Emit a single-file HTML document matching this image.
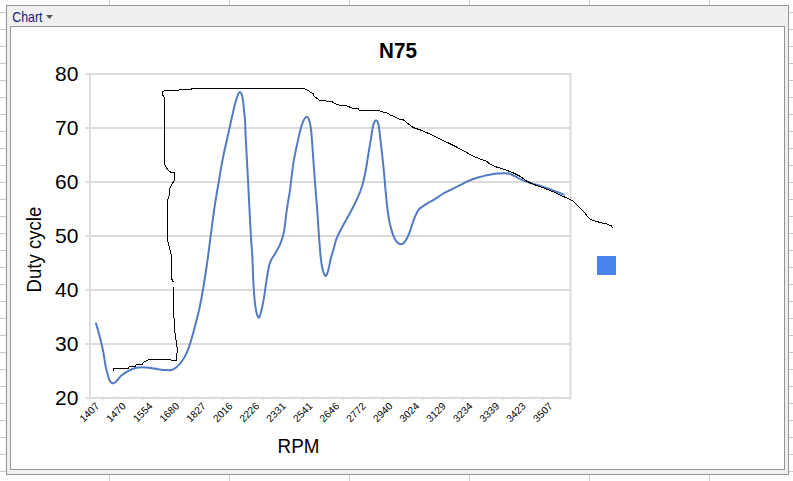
<!DOCTYPE html>
<html><head><meta charset="utf-8"><style>
html,body{margin:0;padding:0;background:#fff;width:793px;height:481px;overflow:hidden}
svg{display:block}
text{font-family:"Liberation Sans",sans-serif}
</style></head><body>
<svg width="793" height="481" viewBox="0 0 793 481"><g stroke="#c8c8c8" stroke-width="1" shape-rendering="crispEdges"><line x1="0" y1="12.5" x2="6" y2="12.5"/><line x1="789" y1="12.5" x2="793" y2="12.5"/><line x1="0" y1="29.5" x2="6" y2="29.5"/><line x1="789" y1="29.5" x2="793" y2="29.5"/><line x1="0" y1="46.5" x2="6" y2="46.5"/><line x1="789" y1="46.5" x2="793" y2="46.5"/><line x1="0" y1="63.5" x2="6" y2="63.5"/><line x1="789" y1="63.5" x2="793" y2="63.5"/><line x1="0" y1="80.5" x2="6" y2="80.5"/><line x1="789" y1="80.5" x2="793" y2="80.5"/><line x1="0" y1="97.5" x2="6" y2="97.5"/><line x1="789" y1="97.5" x2="793" y2="97.5"/><line x1="0" y1="114.5" x2="6" y2="114.5"/><line x1="789" y1="114.5" x2="793" y2="114.5"/><line x1="0" y1="131.5" x2="6" y2="131.5"/><line x1="789" y1="131.5" x2="793" y2="131.5"/><line x1="0" y1="148.5" x2="6" y2="148.5"/><line x1="789" y1="148.5" x2="793" y2="148.5"/><line x1="0" y1="165.5" x2="6" y2="165.5"/><line x1="789" y1="165.5" x2="793" y2="165.5"/><line x1="0" y1="182.5" x2="6" y2="182.5"/><line x1="789" y1="182.5" x2="793" y2="182.5"/><line x1="0" y1="199.5" x2="6" y2="199.5"/><line x1="789" y1="199.5" x2="793" y2="199.5"/><line x1="0" y1="216.5" x2="6" y2="216.5"/><line x1="789" y1="216.5" x2="793" y2="216.5"/><line x1="0" y1="233.5" x2="6" y2="233.5"/><line x1="789" y1="233.5" x2="793" y2="233.5"/><line x1="0" y1="250.5" x2="6" y2="250.5"/><line x1="789" y1="250.5" x2="793" y2="250.5"/><line x1="0" y1="267.5" x2="6" y2="267.5"/><line x1="789" y1="267.5" x2="793" y2="267.5"/><line x1="0" y1="284.5" x2="6" y2="284.5"/><line x1="789" y1="284.5" x2="793" y2="284.5"/><line x1="0" y1="301.5" x2="6" y2="301.5"/><line x1="789" y1="301.5" x2="793" y2="301.5"/><line x1="0" y1="318.5" x2="6" y2="318.5"/><line x1="789" y1="318.5" x2="793" y2="318.5"/><line x1="0" y1="335.5" x2="6" y2="335.5"/><line x1="789" y1="335.5" x2="793" y2="335.5"/><line x1="0" y1="352.5" x2="6" y2="352.5"/><line x1="789" y1="352.5" x2="793" y2="352.5"/><line x1="0" y1="369.5" x2="6" y2="369.5"/><line x1="789" y1="369.5" x2="793" y2="369.5"/><line x1="0" y1="386.5" x2="6" y2="386.5"/><line x1="789" y1="386.5" x2="793" y2="386.5"/><line x1="0" y1="403.5" x2="6" y2="403.5"/><line x1="789" y1="403.5" x2="793" y2="403.5"/><line x1="0" y1="420.5" x2="6" y2="420.5"/><line x1="789" y1="420.5" x2="793" y2="420.5"/><line x1="0" y1="437.5" x2="6" y2="437.5"/><line x1="789" y1="437.5" x2="793" y2="437.5"/><line x1="0" y1="454.5" x2="6" y2="454.5"/><line x1="789" y1="454.5" x2="793" y2="454.5"/><line x1="0" y1="471.5" x2="6" y2="471.5"/><line x1="789" y1="471.5" x2="793" y2="471.5"/><line x1="109.5" y1="0" x2="109.5" y2="5"/><line x1="109.5" y1="475" x2="109.5" y2="481"/><line x1="229.5" y1="0" x2="229.5" y2="5"/><line x1="229.5" y1="475" x2="229.5" y2="481"/><line x1="349.5" y1="0" x2="349.5" y2="5"/><line x1="349.5" y1="475" x2="349.5" y2="481"/><line x1="469.5" y1="0" x2="469.5" y2="5"/><line x1="469.5" y1="475" x2="469.5" y2="481"/><line x1="589.5" y1="0" x2="589.5" y2="5"/><line x1="589.5" y1="475" x2="589.5" y2="481"/><line x1="709.5" y1="0" x2="709.5" y2="5"/><line x1="709.5" y1="475" x2="709.5" y2="481"/></g>
<rect x="6.5" y="5.5" width="782" height="469" fill="#efefef" stroke="#959595" stroke-width="1" shape-rendering="crispEdges"/>
<rect x="10.5" y="26.5" width="774" height="443" fill="#ffffff" stroke="#959595" stroke-width="1" shape-rendering="crispEdges"/>
<text x="0" y="0" transform="translate(12.3 21.8) scale(0.95 1.1)" font-family="Liberation Sans" font-size="13" fill="#1a1a73">Chart</text>
<path d="M46 15 L53 15 L49.5 19 Z" fill="#555"/>
<g stroke="#dcdcdc" stroke-width="2"><line x1="85.5" y1="74.0" x2="571" y2="74.0"/><line x1="85.5" y1="128.0" x2="571" y2="128.0"/><line x1="85.5" y1="182.0" x2="571" y2="182.0"/><line x1="85.5" y1="236.0" x2="571" y2="236.0"/><line x1="85.5" y1="290.0" x2="571" y2="290.0"/><line x1="85.5" y1="344.0" x2="571" y2="344.0"/><line x1="85.5" y1="398.0" x2="571" y2="398.0"/><line x1="90" y1="73" x2="90" y2="399"/><line x1="570.5" y1="73" x2="570.5" y2="399"/></g>
<g stroke="#dddddd" stroke-width="1"><line x1="90.0" y1="398" x2="90.0" y2="400.5"/><line x1="103.3" y1="398" x2="103.3" y2="400.5"/><line x1="116.7" y1="398" x2="116.7" y2="400.5"/><line x1="130.0" y1="398" x2="130.0" y2="400.5"/><line x1="143.3" y1="398" x2="143.3" y2="400.5"/><line x1="156.7" y1="398" x2="156.7" y2="400.5"/><line x1="170.0" y1="398" x2="170.0" y2="400.5"/><line x1="183.3" y1="398" x2="183.3" y2="400.5"/><line x1="196.7" y1="398" x2="196.7" y2="400.5"/><line x1="210.0" y1="398" x2="210.0" y2="400.5"/><line x1="223.3" y1="398" x2="223.3" y2="400.5"/><line x1="236.7" y1="398" x2="236.7" y2="400.5"/><line x1="250.0" y1="398" x2="250.0" y2="400.5"/><line x1="263.3" y1="398" x2="263.3" y2="400.5"/><line x1="276.7" y1="398" x2="276.7" y2="400.5"/><line x1="290.0" y1="398" x2="290.0" y2="400.5"/><line x1="303.3" y1="398" x2="303.3" y2="400.5"/><line x1="316.7" y1="398" x2="316.7" y2="400.5"/><line x1="330.0" y1="398" x2="330.0" y2="400.5"/><line x1="343.3" y1="398" x2="343.3" y2="400.5"/><line x1="356.7" y1="398" x2="356.7" y2="400.5"/><line x1="370.0" y1="398" x2="370.0" y2="400.5"/><line x1="383.3" y1="398" x2="383.3" y2="400.5"/><line x1="396.7" y1="398" x2="396.7" y2="400.5"/><line x1="410.0" y1="398" x2="410.0" y2="400.5"/><line x1="423.3" y1="398" x2="423.3" y2="400.5"/><line x1="436.7" y1="398" x2="436.7" y2="400.5"/><line x1="450.0" y1="398" x2="450.0" y2="400.5"/><line x1="463.3" y1="398" x2="463.3" y2="400.5"/><line x1="476.7" y1="398" x2="476.7" y2="400.5"/><line x1="490.0" y1="398" x2="490.0" y2="400.5"/><line x1="503.3" y1="398" x2="503.3" y2="400.5"/><line x1="516.7" y1="398" x2="516.7" y2="400.5"/><line x1="530.0" y1="398" x2="530.0" y2="400.5"/><line x1="543.3" y1="398" x2="543.3" y2="400.5"/><line x1="556.7" y1="398" x2="556.7" y2="400.5"/><line x1="570.0" y1="398" x2="570.0" y2="400.5"/></g>
<g font-family="Liberation Sans" font-size="21" fill="#000"><text x="78.4" y="81.4" text-anchor="end">80</text><text x="78.4" y="135.4" text-anchor="end">70</text><text x="78.4" y="189.4" text-anchor="end">60</text><text x="78.4" y="243.4" text-anchor="end">50</text><text x="78.4" y="297.4" text-anchor="end">40</text><text x="78.4" y="351.4" text-anchor="end">30</text><text x="78.4" y="405.4" text-anchor="end">20</text></g>
<g font-family="Liberation Sans" font-size="10.2" fill="#000"><text x="99.9" y="406.8" text-anchor="end" transform="rotate(-45 99.9 406.8)">1407</text><text x="126.5" y="406.8" text-anchor="end" transform="rotate(-45 126.5 406.8)">1470</text><text x="153.2" y="406.8" text-anchor="end" transform="rotate(-45 153.2 406.8)">1554</text><text x="179.9" y="406.8" text-anchor="end" transform="rotate(-45 179.9 406.8)">1680</text><text x="206.5" y="406.8" text-anchor="end" transform="rotate(-45 206.5 406.8)">1827</text><text x="233.2" y="406.8" text-anchor="end" transform="rotate(-45 233.2 406.8)">2016</text><text x="259.9" y="406.8" text-anchor="end" transform="rotate(-45 259.9 406.8)">2226</text><text x="286.5" y="406.8" text-anchor="end" transform="rotate(-45 286.5 406.8)">2331</text><text x="313.2" y="406.8" text-anchor="end" transform="rotate(-45 313.2 406.8)">2541</text><text x="339.9" y="406.8" text-anchor="end" transform="rotate(-45 339.9 406.8)">2646</text><text x="366.5" y="406.8" text-anchor="end" transform="rotate(-45 366.5 406.8)">2772</text><text x="393.2" y="406.8" text-anchor="end" transform="rotate(-45 393.2 406.8)">2940</text><text x="419.9" y="406.8" text-anchor="end" transform="rotate(-45 419.9 406.8)">3024</text><text x="446.5" y="406.8" text-anchor="end" transform="rotate(-45 446.5 406.8)">3129</text><text x="473.2" y="406.8" text-anchor="end" transform="rotate(-45 473.2 406.8)">3234</text><text x="499.9" y="406.8" text-anchor="end" transform="rotate(-45 499.9 406.8)">3339</text><text x="526.5" y="406.8" text-anchor="end" transform="rotate(-45 526.5 406.8)">3423</text><text x="553.2" y="406.8" text-anchor="end" transform="rotate(-45 553.2 406.8)">3507</text></g>
<text x="0" y="0" text-anchor="middle" transform="translate(398 57.7) scale(1 1.06)" font-family="Liberation Sans" font-size="20.6" font-weight="bold" fill="#000">N75</text>
<text x="0" y="0" text-anchor="middle" transform="translate(298.5 452.7) scale(1 1.06)" font-family="Liberation Sans" font-size="18.8" fill="#000">RPM</text>
<text x="0" y="0" text-anchor="middle" transform="translate(41.3 249.6) rotate(-90) scale(1 1.09)" font-family="Liberation Sans" font-size="18.6" fill="#000">Duty cycle</text>
<rect x="597" y="256" width="19" height="19" fill="#4783ea"/>
<path d="M96.0 323.5 C96.3 324.7 97.3 327.7 98.1 330.6 C98.9 333.6 100.0 337.6 100.9 341.2 C101.8 344.8 102.5 347.8 103.3 352.0 C104.1 356.2 104.9 362.8 105.6 366.2 C106.2 369.6 106.7 370.5 107.2 372.5 C107.7 374.5 108.2 376.6 108.7 378.1 C109.2 379.6 109.7 380.6 110.3 381.5 C110.9 382.4 111.7 383.0 112.5 383.2 C113.3 383.4 114.2 383.0 115.0 382.5 C115.8 382.0 116.7 380.9 117.5 380.0 C118.3 379.1 119.2 377.8 120.0 376.9 C120.8 376.0 121.2 375.6 122.5 374.7 C123.8 373.8 125.5 372.4 127.6 371.3 C129.7 370.2 132.7 368.7 135.2 368.0 C137.7 367.3 140.2 367.3 142.7 367.3 C145.2 367.3 147.8 367.7 150.3 368.0 C152.8 368.3 155.4 368.9 157.9 369.2 C160.4 369.5 163.2 369.9 165.5 370.0 C167.8 370.1 169.7 370.4 171.5 370.0 C173.3 369.6 174.4 368.9 176.1 367.5 C177.8 366.1 179.6 364.6 181.6 361.7 C183.6 358.8 185.7 355.6 187.8 350.3 C189.9 345.0 192.1 337.1 194.0 330.0 C195.9 322.9 197.9 315.2 199.5 308.0 C201.1 300.8 202.2 294.6 203.5 286.5 C204.8 278.4 206.4 268.1 207.6 259.5 C208.8 250.9 209.8 242.7 210.8 234.9 C211.8 227.2 212.8 219.4 213.7 213.0 C214.6 206.6 215.3 201.8 216.2 196.6 C217.0 191.4 217.9 186.9 218.8 181.6 C219.7 176.3 220.6 170.2 221.6 164.9 C222.6 159.6 223.5 155.0 224.6 150.0 C225.7 145.0 226.9 140.0 228.0 135.0 C229.1 130.0 230.5 123.8 231.3 120.0 C232.1 116.2 232.4 115.2 233.0 112.5 C233.6 109.8 234.2 106.9 235.0 104.1 C235.8 101.3 236.8 97.8 237.5 95.8 C238.2 93.8 238.8 92.4 239.5 92.1 C240.2 91.8 241.0 92.8 241.6 94.1 C242.2 95.4 242.5 97.3 242.9 100.0 C243.3 102.7 243.7 106.7 244.0 110.0 C244.3 113.3 244.7 115.5 245.0 120.0 C245.3 124.5 245.3 129.4 245.7 137.2 C246.1 145.0 246.8 158.2 247.3 167.0 C247.8 175.8 247.9 178.5 248.5 190.0 C249.1 201.5 250.2 224.7 250.9 236.0 C251.6 247.3 252.0 249.7 252.4 257.7 C252.8 265.7 253.0 276.2 253.5 284.2 C254.0 292.1 254.4 299.8 255.2 305.4 C256.0 310.9 257.4 316.3 258.3 317.5 C259.2 318.7 260.0 315.3 260.9 312.4 C261.8 309.5 262.7 305.0 263.6 300.0 C264.5 295.0 265.3 288.0 266.2 282.4 C267.1 276.8 268.1 270.2 268.9 266.5 C269.7 262.8 270.1 262.1 271.2 259.9 C272.3 257.7 273.9 255.6 275.3 253.2 C276.7 250.8 278.2 248.5 279.5 245.7 C280.8 242.9 282.0 239.5 282.8 236.6 C283.6 233.7 283.9 231.9 284.5 228.3 C285.1 224.7 285.6 219.2 286.1 215.0 C286.7 210.8 287.2 207.5 287.8 203.3 C288.4 199.1 289.1 196.8 290.0 190.0 C290.9 183.2 292.2 170.5 293.5 162.4 C294.8 154.3 296.3 147.8 297.7 141.6 C299.1 135.4 300.4 129.1 301.8 125.0 C303.2 120.9 304.8 117.9 306.0 117.0 C307.2 116.1 308.2 117.4 309.1 119.8 C310.0 122.2 310.6 125.8 311.2 131.2 C311.8 136.6 312.3 145.1 312.8 152.0 C313.3 158.9 313.7 164.8 314.3 172.8 C314.9 180.8 315.9 193.7 316.4 200.0 C316.9 206.3 316.8 203.8 317.3 210.8 C317.8 217.8 318.7 233.3 319.4 242.0 C320.1 250.7 320.5 257.2 321.4 262.8 C322.3 268.4 323.8 273.9 324.9 275.5 C325.9 277.1 326.7 274.9 327.7 272.1 C328.7 269.3 329.9 262.3 330.8 258.6 C331.7 254.9 332.3 253.4 333.3 250.0 C334.3 246.6 335.3 241.8 336.7 238.2 C338.1 234.6 340.0 231.4 341.6 228.2 C343.2 225.0 344.9 222.1 346.6 219.1 C348.3 216.1 349.9 213.2 351.6 210.0 C353.3 206.8 355.1 203.3 356.6 200.0 C358.1 196.7 359.7 193.1 360.8 190.0 C361.9 186.9 362.5 184.9 363.3 181.6 C364.1 178.3 365.0 174.1 365.8 170.0 C366.6 165.9 367.0 162.3 367.9 157.0 C368.8 151.7 370.1 143.5 371.0 138.3 C371.9 133.1 372.3 128.8 373.1 125.8 C373.9 122.8 374.9 120.8 375.8 120.5 C376.7 120.2 377.6 120.7 378.3 123.7 C379.1 126.7 379.6 132.8 380.3 138.3 C381.0 143.9 381.7 150.4 382.4 157.0 C383.1 163.6 384.0 172.3 384.5 177.8 C385.0 183.3 385.0 185.1 385.5 190.0 C386.0 194.9 386.6 202.2 387.3 207.5 C388.0 212.8 388.5 217.4 389.5 222.0 C390.5 226.6 391.9 231.8 393.1 235.1 C394.3 238.4 395.4 240.5 396.9 242.0 C398.3 243.5 400.4 244.4 401.8 244.2 C403.2 244.0 404.3 242.7 405.5 240.9 C406.7 239.2 407.8 237.1 409.1 233.7 C410.4 230.3 412.1 224.4 413.5 220.6 C414.9 216.8 416.7 213.1 417.8 211.1 C418.9 209.1 418.4 209.7 420.0 208.4 C421.6 207.1 424.9 204.8 427.3 203.3 C429.7 201.8 432.1 200.8 434.5 199.3 C436.9 197.8 439.4 196.0 441.8 194.5 C444.2 193.0 446.7 191.8 449.1 190.5 C451.5 189.2 454.4 187.9 456.4 186.9 C458.4 185.9 459.4 185.5 461.0 184.7 C462.6 183.9 464.3 182.8 466.2 181.9 C468.1 181.0 470.4 180.1 472.5 179.3 C474.6 178.5 476.6 177.8 478.7 177.2 C480.8 176.6 482.9 176.1 485.0 175.6 C487.1 175.1 489.1 174.8 491.2 174.4 C493.3 174.0 495.3 173.6 497.4 173.4 C499.5 173.2 502.1 173.2 504.0 173.2 C505.9 173.2 507.1 173.3 508.5 173.6 C509.9 173.9 511.1 174.4 512.5 175.0 C513.9 175.6 515.3 176.4 516.8 177.2 C518.2 178.0 519.6 179.0 521.2 179.7 C522.8 180.4 524.3 180.8 526.2 181.5 C528.1 182.2 529.7 182.7 532.4 183.6 C535.1 184.5 538.7 185.5 542.5 186.8 C546.3 188.1 551.5 189.9 555.0 191.2 C558.5 192.5 562.2 194.0 563.7 194.6" fill="none" stroke="#527cc2" stroke-width="2" stroke-linecap="round" stroke-linejoin="round"/>
<polyline points="113.4,370.5 113.4,368.5 128.0,368.5 128.3,367.3 130.2,366.5 135.2,366.2 135.9,365.2 137.4,364.5 142.0,364.5 142.7,363.3 145.0,361.4 146.5,360.5 148.8,359.5 170.8,359.5 171.5,360.3 176.5,360.3 176.5,354.5 177.5,351.6 176.6,343.2 175.0,333.3 174.1,318.3 173.3,311.6 173.0,285.0 173.0,281.5 171.3,278.2 171.3,255.0 170.0,250.0 168.3,243.3 167.5,240.0 167.5,200.5 168.1,198.6 169.3,194.9 170.0,188.0 171.8,184.3 174.3,180.6 174.3,172.5 170.6,172.2 168.1,170.0 165.6,166.8 164.4,163.1 164.2,97.0 162.5,95.0 162.5,91.6 165.0,90.8 179.0,90.0 179.0,89.3 191.6,89.3 192.2,88.3 302.5,88.3 306.5,89.6 310.5,92.1 313.1,93.6 314.1,96.1 316.6,98.2 319.6,100.2 324.7,100.7 326.7,101.2 331.6,101.3 334.1,103.1 339.1,105.1 346.2,105.6 352.2,108.1 358.3,108.6 359.3,110.3 378.5,110.3 381.5,111.6 386.6,112.7 390.6,115.2 395.6,117.2 399.7,119.2 402.6,119.4 412.5,127.0 414.5,128.0 420.8,130.1 429.1,133.7 437.4,137.6 440.0,139.2 448.3,142.9 456.6,147.1 464.9,151.6 473.2,156.2 481.6,159.5 486.5,161.2 489.9,164.1 496.5,167.0 501.2,168.4 507.5,170.6 513.7,173.1 520.0,176.2 526.2,180.9 530.0,182.8 536.2,185.3 542.5,187.5 548.7,190.0 555.0,192.5 561.2,195.6 567.7,198.3 570.6,199.8 573.9,201.7 579.0,206.9 584.7,212.9 586.5,215.3 590.3,219.5 593.1,220.4 597.8,221.8 602.5,223.2 606.2,223.4 609.0,225.1 610.9,225.6 612.8,227.5" fill="none" stroke="#000" stroke-width="1" stroke-linejoin="round" shape-rendering="crispEdges"/></svg>
</body></html>
